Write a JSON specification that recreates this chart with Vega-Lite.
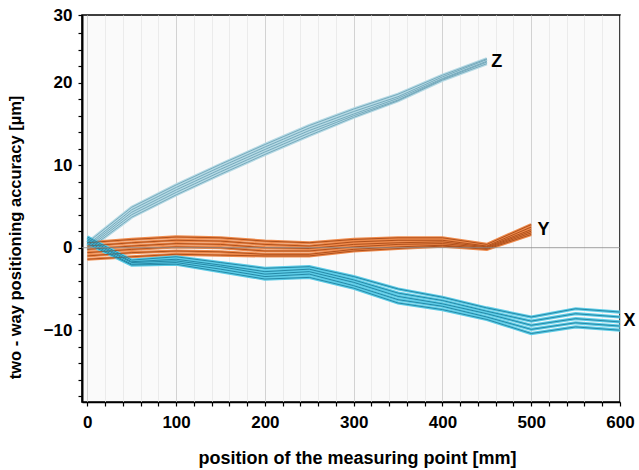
{
  "$schema": "https://vega.github.io/schema/vega-lite/v6.json",
  "width": 538,
  "height": 387,
  "autosize": "none",
  "padding": {"left": 82, "top": 15, "right": 19, "bottom": 68},
  "background": "white",
  "config": {
    "font": "Liberation Sans",
    "view": {"stroke": "black", "strokeWidth": 1.5, "fill": "#fafafa"}
  },
  "datasets": {
    "lines": [
      {"s": "Z", "k": "Z1", "x": 0, "y": 0.6}, {"s": "Z", "k": "Z1", "x": 50, "y": 4.9}, {"s": "Z", "k": "Z1", "x": 100, "y": 7.6}, {"s": "Z", "k": "Z1", "x": 150, "y": 10.1}, {"s": "Z", "k": "Z1", "x": 200, "y": 12.5}, {"s": "Z", "k": "Z1", "x": 250, "y": 14.8}, {"s": "Z", "k": "Z1", "x": 300, "y": 16.8}, {"s": "Z", "k": "Z1", "x": 350, "y": 18.6}, {"s": "Z", "k": "Z1", "x": 400, "y": 20.9}, {"s": "Z", "k": "Z1", "x": 450, "y": 22.9},
      {"s": "Z", "k": "Z2", "x": 0, "y": 0.3}, {"s": "Z", "k": "Z2", "x": 50, "y": 4.6}, {"s": "Z", "k": "Z2", "x": 100, "y": 7.3}, {"s": "Z", "k": "Z2", "x": 150, "y": 9.8}, {"s": "Z", "k": "Z2", "x": 200, "y": 12.2}, {"s": "Z", "k": "Z2", "x": 250, "y": 14.5}, {"s": "Z", "k": "Z2", "x": 300, "y": 16.5}, {"s": "Z", "k": "Z2", "x": 350, "y": 18.3}, {"s": "Z", "k": "Z2", "x": 400, "y": 20.7}, {"s": "Z", "k": "Z2", "x": 450, "y": 22.8},
      {"s": "Z", "k": "Z3", "x": 0, "y": 0.1}, {"s": "Z", "k": "Z3", "x": 50, "y": 4.3}, {"s": "Z", "k": "Z3", "x": 100, "y": 7.0}, {"s": "Z", "k": "Z3", "x": 150, "y": 9.5}, {"s": "Z", "k": "Z3", "x": 200, "y": 11.9}, {"s": "Z", "k": "Z3", "x": 250, "y": 14.2}, {"s": "Z", "k": "Z3", "x": 300, "y": 16.2}, {"s": "Z", "k": "Z3", "x": 350, "y": 18.1}, {"s": "Z", "k": "Z3", "x": 400, "y": 20.5}, {"s": "Z", "k": "Z3", "x": 450, "y": 22.6},
      {"s": "Z", "k": "Z4", "x": 0, "y": -0.1}, {"s": "Z", "k": "Z4", "x": 50, "y": 4.0}, {"s": "Z", "k": "Z4", "x": 100, "y": 6.7}, {"s": "Z", "k": "Z4", "x": 150, "y": 9.2}, {"s": "Z", "k": "Z4", "x": 200, "y": 11.6}, {"s": "Z", "k": "Z4", "x": 250, "y": 13.9}, {"s": "Z", "k": "Z4", "x": 300, "y": 16.0}, {"s": "Z", "k": "Z4", "x": 350, "y": 17.9}, {"s": "Z", "k": "Z4", "x": 400, "y": 20.4}, {"s": "Z", "k": "Z4", "x": 450, "y": 22.5},
      {"s": "Z", "k": "Z5", "x": 0, "y": -0.3}, {"s": "Z", "k": "Z5", "x": 50, "y": 3.7}, {"s": "Z", "k": "Z5", "x": 100, "y": 6.4}, {"s": "Z", "k": "Z5", "x": 150, "y": 8.9}, {"s": "Z", "k": "Z5", "x": 200, "y": 11.3}, {"s": "Z", "k": "Z5", "x": 250, "y": 13.6}, {"s": "Z", "k": "Z5", "x": 300, "y": 15.8}, {"s": "Z", "k": "Z5", "x": 350, "y": 17.8}, {"s": "Z", "k": "Z5", "x": 400, "y": 20.3}, {"s": "Z", "k": "Z5", "x": 450, "y": 22.3},

      {"s": "Y", "k": "Y1", "x": 0, "y": 0.6}, {"s": "Y", "k": "Y1", "x": 50, "y": 1.0}, {"s": "Y", "k": "Y1", "x": 100, "y": 1.3}, {"s": "Y", "k": "Y1", "x": 150, "y": 1.2}, {"s": "Y", "k": "Y1", "x": 200, "y": 0.8}, {"s": "Y", "k": "Y1", "x": 250, "y": 0.6}, {"s": "Y", "k": "Y1", "x": 300, "y": 1.0}, {"s": "Y", "k": "Y1", "x": 350, "y": 1.2}, {"s": "Y", "k": "Y1", "x": 400, "y": 1.2}, {"s": "Y", "k": "Y1", "x": 450, "y": 0.4}, {"s": "Y", "k": "Y1", "x": 500, "y": 2.8},
      {"s": "Y", "k": "Y2", "x": 0, "y": 0.2}, {"s": "Y", "k": "Y2", "x": 50, "y": 0.6}, {"s": "Y", "k": "Y2", "x": 100, "y": 0.9}, {"s": "Y", "k": "Y2", "x": 150, "y": 0.8}, {"s": "Y", "k": "Y2", "x": 200, "y": 0.4}, {"s": "Y", "k": "Y2", "x": 250, "y": 0.2}, {"s": "Y", "k": "Y2", "x": 300, "y": 0.7}, {"s": "Y", "k": "Y2", "x": 350, "y": 0.9}, {"s": "Y", "k": "Y2", "x": 400, "y": 0.9}, {"s": "Y", "k": "Y2", "x": 450, "y": 0.2}, {"s": "Y", "k": "Y2", "x": 500, "y": 2.5},
      {"s": "Y", "k": "Y3", "x": 0, "y": -0.2}, {"s": "Y", "k": "Y3", "x": 50, "y": 0.2}, {"s": "Y", "k": "Y3", "x": 100, "y": 0.5}, {"s": "Y", "k": "Y3", "x": 150, "y": 0.4}, {"s": "Y", "k": "Y3", "x": 200, "y": 0.0}, {"s": "Y", "k": "Y3", "x": 250, "y": -0.1}, {"s": "Y", "k": "Y3", "x": 300, "y": 0.4}, {"s": "Y", "k": "Y3", "x": 350, "y": 0.6}, {"s": "Y", "k": "Y3", "x": 400, "y": 0.7}, {"s": "Y", "k": "Y3", "x": 450, "y": 0.1}, {"s": "Y", "k": "Y3", "x": 500, "y": 2.2},
      {"s": "Y", "k": "Y4", "x": 0, "y": -0.6}, {"s": "Y", "k": "Y4", "x": 50, "y": -0.2}, {"s": "Y", "k": "Y4", "x": 100, "y": 0.1}, {"s": "Y", "k": "Y4", "x": 150, "y": 0.0}, {"s": "Y", "k": "Y4", "x": 200, "y": -0.4}, {"s": "Y", "k": "Y4", "x": 250, "y": -0.4}, {"s": "Y", "k": "Y4", "x": 300, "y": 0.1}, {"s": "Y", "k": "Y4", "x": 350, "y": 0.4}, {"s": "Y", "k": "Y4", "x": 400, "y": 0.5}, {"s": "Y", "k": "Y4", "x": 450, "y": 0.0}, {"s": "Y", "k": "Y4", "x": 500, "y": 2.0},
      {"s": "Y", "k": "Y5", "x": 0, "y": -1.0}, {"s": "Y", "k": "Y5", "x": 50, "y": -0.6}, {"s": "Y", "k": "Y5", "x": 100, "y": -0.4}, {"s": "Y", "k": "Y5", "x": 150, "y": -0.5}, {"s": "Y", "k": "Y5", "x": 200, "y": -0.8}, {"s": "Y", "k": "Y5", "x": 250, "y": -0.8}, {"s": "Y", "k": "Y5", "x": 300, "y": -0.2}, {"s": "Y", "k": "Y5", "x": 350, "y": 0.1}, {"s": "Y", "k": "Y5", "x": 400, "y": 0.3}, {"s": "Y", "k": "Y5", "x": 450, "y": -0.1}, {"s": "Y", "k": "Y5", "x": 500, "y": 1.8},
      {"s": "Y", "k": "Y6", "x": 0, "y": -1.4}, {"s": "Y", "k": "Y6", "x": 50, "y": -1.1}, {"s": "Y", "k": "Y6", "x": 100, "y": -0.8}, {"s": "Y", "k": "Y6", "x": 150, "y": -0.9}, {"s": "Y", "k": "Y6", "x": 200, "y": -1.0}, {"s": "Y", "k": "Y6", "x": 250, "y": -1.0}, {"s": "Y", "k": "Y6", "x": 300, "y": -0.4}, {"s": "Y", "k": "Y6", "x": 350, "y": -0.1}, {"s": "Y", "k": "Y6", "x": 400, "y": 0.2}, {"s": "Y", "k": "Y6", "x": 450, "y": -0.2}, {"s": "Y", "k": "Y6", "x": 500, "y": 1.6},

      {"s": "X", "k": "X1", "x": 0, "y": 1.3}, {"s": "X", "k": "X1", "x": 50, "y": -1.5}, {"s": "X", "k": "X1", "x": 100, "y": -1.1}, {"s": "X", "k": "X1", "x": 150, "y": -1.8}, {"s": "X", "k": "X1", "x": 200, "y": -2.5}, {"s": "X", "k": "X1", "x": 250, "y": -2.3}, {"s": "X", "k": "X1", "x": 300, "y": -3.5}, {"s": "X", "k": "X1", "x": 350, "y": -5.0}, {"s": "X", "k": "X1", "x": 400, "y": -6.0}, {"s": "X", "k": "X1", "x": 450, "y": -7.3}, {"s": "X", "k": "X1", "x": 500, "y": -8.4}, {"s": "X", "k": "X1", "x": 550, "y": -7.4}, {"s": "X", "k": "X1", "x": 600, "y": -7.8},
      {"s": "X", "k": "X2", "x": 0, "y": 1.1}, {"s": "X", "k": "X2", "x": 50, "y": -1.7}, {"s": "X", "k": "X2", "x": 100, "y": -1.4}, {"s": "X", "k": "X2", "x": 150, "y": -2.1}, {"s": "X", "k": "X2", "x": 200, "y": -2.9}, {"s": "X", "k": "X2", "x": 250, "y": -2.6}, {"s": "X", "k": "X2", "x": 300, "y": -3.9}, {"s": "X", "k": "X2", "x": 350, "y": -5.5}, {"s": "X", "k": "X2", "x": 400, "y": -6.4}, {"s": "X", "k": "X2", "x": 450, "y": -7.7}, {"s": "X", "k": "X2", "x": 500, "y": -8.9}, {"s": "X", "k": "X2", "x": 550, "y": -8.0}, {"s": "X", "k": "X2", "x": 600, "y": -8.4},
      {"s": "X", "k": "X3", "x": 0, "y": 0.9}, {"s": "X", "k": "X3", "x": 50, "y": -1.8}, {"s": "X", "k": "X3", "x": 100, "y": -1.6}, {"s": "X", "k": "X3", "x": 150, "y": -2.3}, {"s": "X", "k": "X3", "x": 200, "y": -3.2}, {"s": "X", "k": "X3", "x": 250, "y": -2.9}, {"s": "X", "k": "X3", "x": 300, "y": -4.2}, {"s": "X", "k": "X3", "x": 350, "y": -5.9}, {"s": "X", "k": "X3", "x": 400, "y": -6.8}, {"s": "X", "k": "X3", "x": 450, "y": -8.0}, {"s": "X", "k": "X3", "x": 500, "y": -9.4}, {"s": "X", "k": "X3", "x": 550, "y": -8.6}, {"s": "X", "k": "X3", "x": 600, "y": -9.0},
      {"s": "X", "k": "X4", "x": 0, "y": 0.7}, {"s": "X", "k": "X4", "x": 50, "y": -2.0}, {"s": "X", "k": "X4", "x": 100, "y": -1.8}, {"s": "X", "k": "X4", "x": 150, "y": -2.6}, {"s": "X", "k": "X4", "x": 200, "y": -3.5}, {"s": "X", "k": "X4", "x": 250, "y": -3.2}, {"s": "X", "k": "X4", "x": 300, "y": -4.6}, {"s": "X", "k": "X4", "x": 350, "y": -6.3}, {"s": "X", "k": "X4", "x": 400, "y": -7.1}, {"s": "X", "k": "X4", "x": 450, "y": -8.4}, {"s": "X", "k": "X4", "x": 500, "y": -9.9}, {"s": "X", "k": "X4", "x": 550, "y": -9.1}, {"s": "X", "k": "X4", "x": 600, "y": -9.5},
      {"s": "X", "k": "X5", "x": 0, "y": 0.5}, {"s": "X", "k": "X5", "x": 50, "y": -2.1}, {"s": "X", "k": "X5", "x": 100, "y": -2.0}, {"s": "X", "k": "X5", "x": 150, "y": -2.9}, {"s": "X", "k": "X5", "x": 200, "y": -3.8}, {"s": "X", "k": "X5", "x": 250, "y": -3.6}, {"s": "X", "k": "X5", "x": 300, "y": -4.9}, {"s": "X", "k": "X5", "x": 350, "y": -6.7}, {"s": "X", "k": "X5", "x": 400, "y": -7.5}, {"s": "X", "k": "X5", "x": 450, "y": -8.7}, {"s": "X", "k": "X5", "x": 500, "y": -10.4}, {"s": "X", "k": "X5", "x": 550, "y": -9.6}, {"s": "X", "k": "X5", "x": 600, "y": -10.0}
    ],
    "labels": [
      {"t": "Z", "x": 455, "y": 22.5},
      {"t": "Y", "x": 507, "y": 2.1},
      {"t": "X", "x": 604, "y": -8.9}
    ],
    "zero": [{"y": 0}]
  },
  "layer": [
    {
      "data": {"name": "lines"},
      "mark": {"type": "line", "strokeWidth": 3.2, "interpolate": "linear"},
      "encoding": {
        "x": {
          "field": "x", "type": "quantitative",
          "scale": {"domain": [-6, 600], "nice": false, "zero": false},
          "axis": {
            "title": "position of the measuring point [mm]",
            "titleFontSize": 18, "titleFontWeight": "bold", "titleColor": "black",
            "titleX": 275, "titleY": 56, "titleBaseline": "middle", "titleAlign": "center", "titleAnchor": null,
            "values": [0, 20, 40, 60, 80, 100, 120, 140, 160, 180, 200, 220, 240, 260, 280, 300, 320, 340, 360, 380, 400, 420, 440, 460, 480, 500, 520, 540, 560, 580, 600],
            "tickCount": 200,
            "labelExpr": "datum.value % 100 === 0 ? datum.label : ''",
            "format": "d",
            "labelFontSize": 17, "labelFontWeight": "bold", "labelColor": "black", "labelPadding": 8,
            "labelOverlap": false, "labelFlush": false,
            "domainColor": "black", "domainWidth": 1.5,
            "tickColor": "black", "tickSize": 4, "tickWidth": 1.2,
            "grid": true,
            "gridColor": {"condition": {"test": "datum.value % 100 === 0", "value": "#d2d2d2"}, "value": "#ebebeb"},
            "gridWidth": 1
          }
        },
        "y": {
          "field": "y", "type": "quantitative",
          "scale": {"domain": [-18.7, 28.2], "nice": false, "zero": false},
          "axis": {
            "title": "two - way positioning accuracy [µm]",
            "titleFontSize": 16.5, "titleFontWeight": "bold", "titleColor": "black",
            "titleAngle": -90, "titleX": -67, "titleY": 222, "titleBaseline": "middle", "titleAlign": "center", "titleAnchor": null,
            "values": [-18, -16, -14, -12, -10, -8, -6, -4, -2, 0, 2, 4, 6, 8, 10, 12, 14, 16, 18, 20, 22, 24, 26, 28.2],
            "tickCount": 200,
            "labelExpr": "datum.value > 28 ? '30' : (datum.value % 10 === 0 ? datum.label : '')",
            "format": "d",
            "labelFontSize": 17, "labelFontWeight": "bold", "labelColor": "black", "labelPadding": 6,
            "labelOverlap": false, "labelFlush": false,
            "domainColor": "black", "domainWidth": 2,
            "tickColor": "black", "tickSize": 4, "tickWidth": 1.2,
            "grid": false
          }
        },
        "detail": {"field": "k"},
        "color": {
          "field": "s", "type": "nominal", "legend": null,
          "scale": {"domain": ["Z", "Y", "X"], "range": ["#b5d9e4", "#ee8a4c", "#5ccbe6"]}
        }
      }
    },
    {
      "data": {"name": "lines"},
      "mark": {"type": "line", "strokeWidth": 0.9, "interpolate": "linear"},
      "encoding": {
        "x": {"field": "x", "type": "quantitative"},
        "y": {"field": "y", "type": "quantitative"},
        "detail": {"field": "k"},
        "color": {
          "field": "s", "type": "nominal", "legend": null,
          "scale": {"domain": ["Z", "Y", "X"], "range": ["#6fa5b8", "#a84a16", "#1f819f"]}
        }
      }
    },
    {
      "data": {"name": "zero"},
      "mark": {"type": "rule", "color": "#8a8a8a", "strokeWidth": 1, "opacity": 0.8},
      "encoding": {
        "y": {"field": "y", "type": "quantitative"}
      }
    },
    {
      "data": {"name": "labels"},
      "mark": {"type": "text", "align": "left", "baseline": "middle", "fontSize": 18, "fontWeight": "bold", "color": "black", "font": "Liberation Sans"},
      "encoding": {
        "x": {"field": "x", "type": "quantitative"},
        "y": {"field": "y", "type": "quantitative"},
        "text": {"field": "t"}
      }
    }
  ],
  "resolve": {"scale": {"color": "independent"}}
}
